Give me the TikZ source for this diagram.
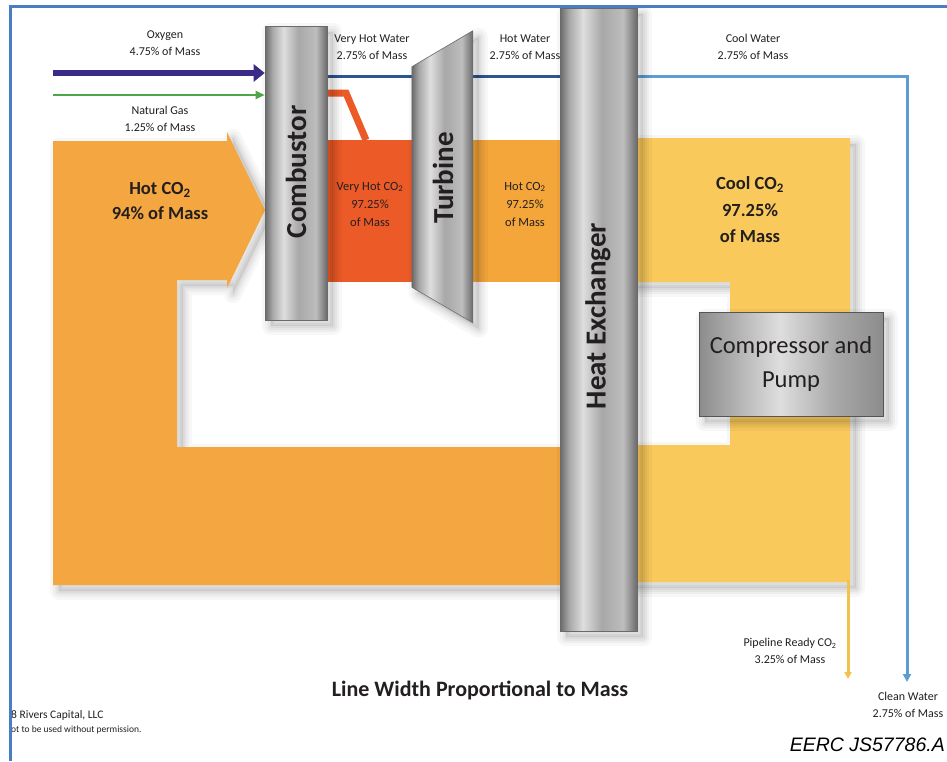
\documentclass[tikz,border=0pt]{standalone}
\usepackage{fontspec}
\setmainfont{Carlito}
\newfontfamily\arialfont{Liberation Sans}
\usetikzlibrary{arrows.meta,calc}
\definecolor{hotco}{HTML}{F4A640}
\definecolor{hotblock}{HTML}{F5A63A}
\definecolor{veryhot}{HTML}{EC5A27}
\definecolor{coolco}{HTML}{F9C95B}
\definecolor{oxyc}{HTML}{3B2A87}
\definecolor{gasc}{HTML}{4FA54A}
\definecolor{hotwaterc}{HTML}{2E5590}
\definecolor{coolwaterc}{HTML}{5D9DD4}
\definecolor{pipec}{HTML}{F3C24E}
\definecolor{framec}{HTML}{4A7EC2}
\definecolor{textc}{HTML}{231F20}
\definecolor{cylA}{HTML}{6A6A6A}
\definecolor{cylB}{HTML}{A8A8A8}
\definecolor{cylC}{HTML}{DEDEDE}
\definecolor{cylD}{HTML}{8C8C8C}
\definecolor{cylE}{HTML}{BDBDBD}
\pgfdeclarehorizontalshading{cylshade}{100bp}{color(0bp)=(cylA); color(25bp)=(cylA); color(31bp)=(cylB); color(40bp)=(cylC); color(52bp)=(cylB); color(66bp)=(cylE); color(75bp)=(cylA); color(100bp)=(cylA)}
\pgfdeclarehorizontalshading{metalshade}{100bp}{color(0bp)=(cylA); color(25bp)=(cylD); color(47bp)=(cylC); color(62bp)=(cylB); color(75bp)=(cylD); color(100bp)=(cylD)}
\pgfdeclarelayer{back}
\pgfdeclarelayer{mid}
\pgfsetlayers{back,mid,main}
\begin{document}
\begin{tikzpicture}[x=1pt,y=-1pt,
  softshadow/.style={
    preaction={draw=black, draw opacity=0.03, line width=18, line join=round, transform canvas={shift={(6pt,-6pt)}}},
    preaction={draw=black, draw opacity=0.035, line width=12, line join=round, transform canvas={shift={(6pt,-6pt)}}},
    preaction={draw=black, draw opacity=0.04, line width=7, line join=round, transform canvas={shift={(6pt,-6pt)}}},
    preaction={draw=black, draw opacity=0.04, line width=3, line join=round, transform canvas={shift={(6pt,-6pt)}}},
    preaction={fill=black, fill opacity=0.07, transform canvas={shift={(6pt,-6pt)}}}},
  lbl/.style={align=center, text=textc, inner sep=0, font=\fontsize{12}{17.5}\selectfont},
  blocklbl/.style={align=center, text=textc, inner sep=0, font=\fontsize{12.5}{18}\selectfont},
  biglbl/.style={align=center, text=textc, inner sep=0, font=\fontsize{18.5}{25}\selectfont\bfseries},
  eqlbl/.style={text=textc, inner sep=0, font=\fontsize{29}{29}\selectfont\bfseries},
  cyl/.style={softshadow, shade, shading=cylshade, draw=cylA, line width=0.6, inner sep=0},
  oxyline/.style={draw=oxyc, line width=6, -{Triangle[length=11pt,width=17pt]}},
  gasline/.style={draw=gasc, line width=2, -{Triangle[length=9pt,width=8pt]}},
  hotwater/.style={draw=hotwaterc, line width=3},
  coolwater/.style={draw=coolwaterc, line width=3, line join=miter},
  pipeline/.style={draw=pipec, line width=3},
  kink/.style={draw=veryhot, line width=7, line join=miter}
]
\useasboundingbox (0,0) rectangle (947,761);
\begin{pgfonlayer}{back}
  \fill[white] (0,0) rectangle (947,761);
\end{pgfonlayer}

% ---------- equipment (main layer) ----------
\node[cyl, minimum width=62, minimum height=294] (comb) at (296,173) {};
\node[eqlbl] (combtxt) at (296,172) {\rotatebox{90}{Combustor}};

\path node[inner sep=0, minimum width=61, minimum height=220] (turb) at (442.5,177) {};
\path[softshadow, shade, shading=cylshade, draw=cylA, line width=0.6]
  (turb.north west) -- ++(61,-36) -- ++(0,292) -- (turb.south west) -- cycle;
\node[eqlbl] (turbtxt) at (443,178) {\rotatebox{90}{Turbine}};

\node[cyl, minimum width=77, minimum height=623] (hx) at (598.5,319.5) {};
\node[eqlbl] (hxtxt) at (598,316) {\rotatebox{90}{Heat Exchanger}};

\node[softshadow, shade, shading=metalshade, draw=cylA!80!black, line width=1, inner sep=0,
  minimum width=184, minimum height=104] (comp) at (791,364) {};
\node[align=center, text=textc, inner sep=0, font=\fontsize{24.5}{34}\selectfont] (comptxt) at (791,364) {Compressor and\\Pump};

% ---------- flows (back layer) ----------
\begin{pgfonlayer}{back}
  \path[fill=hotco, softshadow] (53,141) -- (227,141) -- (227,132) -- (265,210) -- (227,288)
    -- (227,280) -- (177,280) -- (177,447) -- (600,447) -- (600,585) -- (53,585) -- cycle;
  \path[fill=coolco, softshadow] (600,138) -- (850,138) -- (850,582) -- (600,582) -- (600,445)
    -- (730,445) -- (730,282) -- (600,282) -- cycle;
  \node[fill=veryhot, inner sep=0, minimum width=100, minimum height=142] (vhco) at (370,211) {};
  \node[fill=hotblock, inner sep=0, minimum width=130, minimum height=142] (hco) at (535,211) {};
\end{pgfonlayer}

% ---------- lines (mid layer) ----------
\begin{pgfonlayer}{mid}
  \coordinate (hwy) at (0,76);
  \coordinate (kinkA) at (346,93);
  \coordinate (kinkB) at (366,140);
  \draw[kink] (comb.east |- kinkA) -- (kinkA) -- (kinkB);
  \draw[hotwater] (comb.east |- hwy) -- (turb.west |- hwy);
  \draw[hotwater] (turb.east |- hwy) -- (hx.west |- hwy);
  \coordinate (cwcorner) at (907,76);
  \coordinate (cwend) at (907,682);
  \draw[coolwater, -{Triangle[length=8pt,width=8pt]}] (hx.east |- hwy) -- (cwcorner) -- (cwend);
  \coordinate (pipestart) at (848,580);
  \coordinate (pipeend) at (848,679);
  \draw[pipeline, -{Triangle[length=7pt,width=7pt]}] (pipestart) -- (pipeend);
\end{pgfonlayer}

% ---------- inlet arrows ----------
\coordinate (oxs) at (53,73);
\draw[oxyline] (oxs) -- (oxs -| comb.west);
\coordinate (gas) at (53,95);
\draw[gasline] (gas) -- (gas -| comb.west);

% ---------- labels ----------
\node[lbl] (oxlbl) at (165,43) {Oxygen\\4.75\% of Mass};
\node[lbl] (gaslbl) at (160,119) {Natural Gas\\1.25\% of Mass};
\node[lbl] (vhwlbl) at (372,47) {Very Hot Water\\2.75\% of Mass};
\node[lbl] (hwlbl) at (525,47) {Hot Water\\2.75\% of Mass};
\node[lbl] (cwlbl) at (753,47) {Cool Water\\2.75\% of Mass};
\node[lbl] (pipelbl) at (790,651) {Pipeline Ready CO\textsubscript{2}\\3.25\% of Mass};
\node[lbl] (cleanlbl) at (908,705) {Clean Water\\2.75\% of Mass};

\node[biglbl] (hotlbl) at (160,201) {Hot CO\textsubscript{2}\\94\% of Mass};
\node[blocklbl] (vhlbl) at (370,204) {Very Hot CO\textsubscript{2}\\97.25\%\\of Mass};
\node[blocklbl] (hlbl) at (525,204) {Hot CO\textsubscript{2}\\97.25\%\\of Mass};
\node[align=center, text=textc, inner sep=0, font=\fontsize{18.5}{26.5}\selectfont\bfseries] (coollbl) at (750,210) {Cool CO\textsubscript{2}\\97.25\%\\of Mass};

\node[text=textc, inner sep=0, font=\fontsize{22}{22}\selectfont\bfseries] (title) at (480,690) {Line Width Proportional to Mass};
\node[anchor=east, text=black, inner sep=0, font=\arialfont\itshape\fontsize{19.5}{19.5}\selectfont] (eerc) at (945,745) {EERC JS57786.A};
\node[anchor=west, text=textc, inner sep=0, font=\fontsize{11.5}{11.5}\selectfont] (cap1) at (11,715) {8 Rivers Capital, LLC};
\node[anchor=west, text=textc, inner sep=0, font=\fontsize{9.5}{9.5}\selectfont] (cap2) at (11,730) {ot to be used without permission.};

% ---------- frame ----------
\draw[framec, line width=3] (10,761) -- (10,6) -- (947,6);
\end{tikzpicture}
\end{document}
